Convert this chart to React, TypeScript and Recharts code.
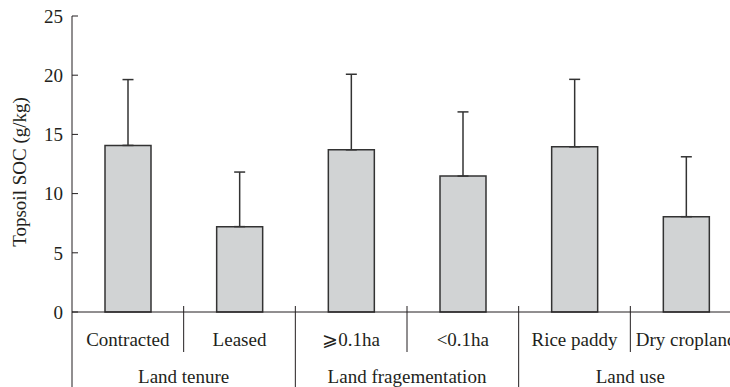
import React from "react";
import { BarChart, Bar, XAxis, YAxis, ErrorBar } from "recharts";

const categories = ["Contracted", "Leased", "⩾0.1ha", "<0.1ha", "Rice paddy", "Dry cropland"];
const means = [14.07, 7.21, 13.7, 11.48, 13.95, 8.05];
const sdUpper = [5.56, 4.61, 6.38, 5.42, 5.7, 5.06];
const groups = ["Land tenure", "Land fragementation", "Land use"];
const yTicks = [0, 5, 10, 15, 20, 25];

const data = categories.map((name, i) => ({ name, mean: means[i], err: [0, sdUpper[i]] }));

const FONT = "'Liberation Serif', 'Times New Roman', serif";
const INK = "#231f20";
const CHART_W = 742;
const Y_W = 72;
const BAND = (CHART_W - Y_W) / categories.length;

function CatTick(props: any) {
  const { x, y, payload, index } = props;
  const i = typeof index === "number" ? index : payload.index;
  const rx = x + BAND / 2;
  const long = i % 2 === 1;
  return (
    <g>
      <text x={x} y={y + 34} textAnchor="middle" fontFamily={FONT} fontSize={19} fill={INK}>
        {payload.value}
      </text>
      <line x1={rx} x2={rx} y1={y - 6} y2={long ? y + 80 : y + 40} stroke={INK} strokeWidth={1} />
      {i === 0 && <line x1={x - BAND / 2} x2={x - BAND / 2} y1={y} y2={y + 80} stroke={INK} strokeWidth={1} />}
      {i % 2 === 0 && (
        <text x={rx} y={y + 71} textAnchor="middle" fontFamily={FONT} fontSize={19} fill={INK}>
          {groups[i / 2]}
        </text>
      )}
    </g>
  );
}

function YLabel() {
  return (
    <text
      x={19}
      y={172}
      transform="rotate(-90 19 172)"
      textAnchor="middle"
      dominantBaseline="central"
      fontFamily={FONT}
      fontSize={19}
      fill={INK}
    >
      Topsoil SOC (g/kg)
    </text>
  );
}

export default function App() {
  return (
    <div style={{ position: "absolute", left: 0, top: 0, width: 730, height: 387, overflow: "hidden", background: "#fff" }}>
      <BarChart width={CHART_W} height={387} data={data} margin={{ top: 16, right: 0, bottom: 0, left: 0 }}>
        <YAxis
          width={Y_W}
          domain={[0, 25]}
          ticks={yTicks}
          interval={0}
          tickSize={-6}
          tickMargin={15}
          axisLine={{ stroke: INK, strokeWidth: 1 }}
          tickLine={{ stroke: INK, strokeWidth: 1 }}
          tick={{ fontFamily: FONT, fontSize: 19, fill: INK }}
          label={<YLabel />}
        />
        <XAxis
          dataKey="name"
          height={75}
          interval={0}
          tickSize={0}
          tickMargin={0}
          tickLine={false}
          axisLine={{ stroke: INK, strokeWidth: 1 }}
          tick={<CatTick />}
        />
        <Bar dataKey="mean" fill="#d1d3d4" stroke="#333" strokeWidth={1.5} barSize={46} isAnimationActive={false}>
          <ErrorBar dataKey="err" direction="y" width={5.5} stroke="#333" strokeWidth={1.5} />
        </Bar>
      </BarChart>
    </div>
  );
}
